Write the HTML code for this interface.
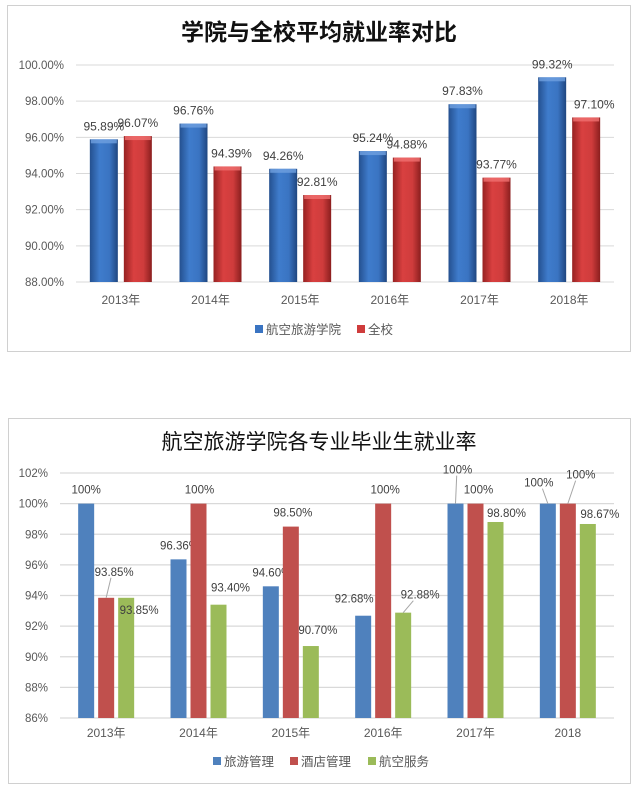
<!DOCTYPE html>
<html><head><meta charset="utf-8">
<style>
body{margin:0;background:#fff;width:638px;height:795px;overflow:hidden;font-family:"Liberation Sans","Noto Sans CJK SC",sans-serif;}
svg{position:absolute;left:0;top:0}
</style></head>
<body>
<svg id="s" width="638" height="795" xmlns="http://www.w3.org/2000/svg">
<defs>
<linearGradient id="gb" x1="0" x2="1" y1="0" y2="0"><stop offset="0" stop-color="#24508f"/><stop offset="0.35" stop-color="#3f7ccc"/><stop offset="0.7" stop-color="#3a74c2"/><stop offset="1" stop-color="#1f4680"/></linearGradient>
<linearGradient id="gr" x1="0" x2="1" y1="0" y2="0"><stop offset="0" stop-color="#962222"/><stop offset="0.35" stop-color="#d94040"/><stop offset="0.7" stop-color="#cf3c3c"/><stop offset="1" stop-color="#8a1e1e"/></linearGradient>
</defs>
<rect x="7.5" y="5.5" width="623" height="346" fill="#fff" stroke="#d0d0d0"/>
<text x="319" y="40" text-anchor="middle" font-size="23" font-weight="bold" fill="#111">学院与全校平均就业率对比</text>
<g id="c1"></g>
<rect x="8.5" y="418.5" width="622" height="365" fill="#fff" stroke="#d0d0d0"/>
<text x="319" y="449" text-anchor="middle" font-size="21" fill="#111">航空旅游学院各专业毕业生就业率</text>
<g id="c2"></g>
</svg>
<script>
const NS="http://www.w3.org/2000/svg";
const years1=["2013年","2014年","2015年","2016年","2017年","2018年"];
const college1=[95.89,96.76,94.26,95.24,97.83,99.32];
const school1=[96.07,94.39,92.81,94.88,93.77,97.10];
const ticks1=[88,90,92,94,96,98,100];

const years2=["2013年","2014年","2015年","2016年","2017年","2018"];
const tourism2=[100,96.36,94.60,92.68,100,100];
const hotel2=[93.85,100,98.50,100,100,100];
const aviation2=[93.85,93.40,90.70,92.88,98.80,98.67];
const ticks2=[86,88,90,92,94,96,98,100,102];

function mk(tag,attrs,parent,text){const e=document.createElementNS(NS,tag);for(const k in attrs)e.setAttribute(k,attrs[k]);if(text!==undefined)e.textContent=text;parent.appendChild(e);return e;}

// chart 1
const g1=document.getElementById('c1');
const x1L=76,x1R=614,y1=v=>65+(100-v)*(217/12);
const step1=(x1R-x1L)/years1.length;
ticks1.forEach(t=>{
  const l=mk('line',{x1:x1L,x2:x1R,y1:y1(t),y2:y1(t),stroke:'#d9d9d9','stroke-width':1},g1);
  
  
  const tx=mk('text',{x:64,y:y1(t)+4,'text-anchor':'end','font-size':11.5,fill:'#595959'},g1,t.toFixed(2)+'%');
  
  
});
const lblDx1=[[0,0],[0,4],[0,0],[0,0],[0,0],[0,8]];
years1.forEach((yr,i)=>{
  const gc=x1L+step1*(i+0.5);
  [[college1[i],'url(#gb)','#6fa0e0',-17,'college'],[school1[i],'url(#gr)','#f07070',17,'school']].forEach(([v,fill,top,off,nm],k)=>{
    const cx=gc+off, yt=y1(v), yb=y1(88);
    const r=mk('rect',{x:cx-14,y:yt,width:28,height:yb-yt,fill:fill},g1);
    
    
    const t=mk('rect',{x:cx-13,y:yt,width:26,height:4,fill:top,opacity:0.8},g1);
    
    
    const lb=mk('text',{x:cx+(k?lblDx1[i][1]:lblDx1[i][0]),y:yt-9,'text-anchor':'middle','font-size':12,fill:'#404040'},g1,v.toFixed(2)+'%');
    
    
  });
  const c=mk('text',{x:gc,y:304,'text-anchor':'middle','font-size':12,fill:'#595959'},g1,yr);
  
  
});
[[255,'#3a74c2','航空旅游学院','chart1-legend-college'],[357,'#cf3c3c','全校','chart1-legend-school']].forEach(([x,c,t,n])=>{
  const s=mk('rect',{x:x,y:325,width:8,height:8,fill:c},g1);
  
  
  const tx=mk('text',{x:x+11,y:334,'font-size':12.5,fill:'#595959'},g1,t);
  
  
});

// chart 2
const g2=document.getElementById('c2');
const x2L=60,x2R=614,y2=v=>473+(102-v)*(245/16);
const step2=(x2R-x2L)/years2.length;
ticks2.forEach(t=>{
  const l=mk('line',{x1:x2L,x2:x2R,y1:y2(t),y2:y2(t),stroke:'#d9d9d9','stroke-width':1.2},g2);
  
  
  const tx=mk('text',{x:48,y:y2(t)+4,'text-anchor':'end','font-size':11.5,fill:'#595959'},g2,t+'%');
  
  
});
const off2=[
 [[0,-14],[8,-26],[13,12]],
 [[1,-14],[1,-14],[12,-17]],
 [[1,-14],[2,-14],[7,-16]],
 [[-9,-17],[2,-14],[17,-18]],
 [[2,-34],[3,-14],[11,-9]],
 [[-9,-21],[13,-29],[12,-10]]];
const leader=[[0,1],[3,2],[4,0],[5,0],[5,1]];
const fmt=v=>v===100?'100%':v.toFixed(2)+'%';
years2.forEach((yr,i)=>{
  const gc=x2L+step2*(i+0.5);
  [[tourism2[i],'#4f81bd',-20,'tourism'],[hotel2[i],'#c0504d',0,'hotel'],[aviation2[i],'#9bbb59',20,'aviation']].forEach(([v,c,off,nm],k)=>{
    const cx=gc+off, yt=y2(v), yb=y2(86);
    const r=mk('rect',{x:cx-8,y:yt,width:16,height:yb-yt,fill:c},g2);
    
    
    const [dx,dy]=off2[i][k];
    if(leader.some(p=>p[0]===i&&p[1]===k)){
      const ln=mk('line',{x1:cx+(dx>0?2:-2)*0,y1:yt,x2:cx+dx*0.6,y2:yt+dy+6,stroke:'#a6a6a6','stroke-width':1},g2);
      
      
    }
    const lb=mk('text',{x:cx+dx,y:yt+dy+4,'text-anchor':'middle','font-size':11.5,fill:'#404040'},g2,fmt(v));
    
    
  });
  const ct=mk('text',{x:gc,y:737,'text-anchor':'middle','font-size':12,fill:'#595959'},g2,yr);
  
  
});
[[213,'#4f81bd','旅游管理','chart2-legend-tourism'],[290,'#c0504d','酒店管理','chart2-legend-hotel'],[368,'#9bbb59','航空服务','chart2-legend-aviation']].forEach(([x,c,t,n])=>{
  const s=mk('rect',{x:x,y:757,width:8,height:8,fill:c},g2);
  
  
  const tx=mk('text',{x:x+11,y:766,'font-size':12.5,fill:'#595959'},g2,t);
  
  
});
</script>
</body></html>
